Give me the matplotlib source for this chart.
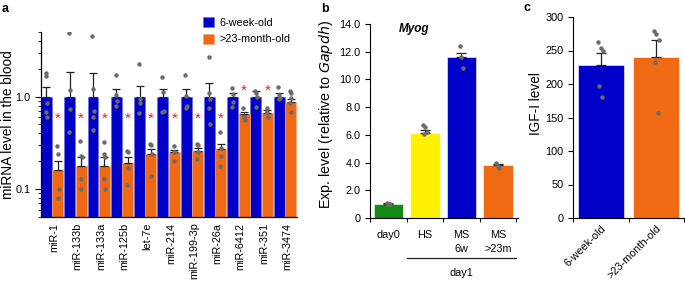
import matplotlib
matplotlib.use("Agg")
import matplotlib.pyplot as plt
import matplotlib.transforms as mtransforms
from matplotlib.ticker import NullFormatter, LogLocator
import numpy as np

plt.rcParams['font.family'] = ['Liberation Sans', 'DejaVu Sans']

BLUE = '#0000C8'
ORANGE = '#EF6A13'
GREEN = '#138A13'
YELLOW = '#FFF200'
DOT = '#6b6b6b'

# ---------------- Panel a data ----------------
mirnas = ['miR-1', 'miR-133b', 'miR-133a', 'miR-125b', 'let-7e', 'miR-214',
          'miR-199-3p', 'miR-26a', 'miR-6412', 'miR-351', 'miR-3474']
young_mean = [1.0] * 11
young_err_top = [1.26, 1.84, 1.80, 1.20, 1.31, 1.20, 1.20, 1.40, 1.10, 1.16, 1.09]
old_mean = [0.16, 0.18, 0.18, 0.19, 0.24, 0.25, 0.26, 0.27, 0.65, 0.67, 0.88]
old_err_top = [0.20, 0.22, 0.22, 0.22, 0.27, 0.264, 0.28, 0.31, 0.68, 0.71, 0.95]
young_pts = [
    [1.80, 1.68, 0.86, 0.69, 0.60],
    [4.9, 1.17, 0.74, 0.42],
    [4.5, 1.2, 0.70, 0.60, 0.44],
    [1.73, 1.05, 0.89, 0.79],
    [2.27, 0.95, 0.85, 0.66],
    [1.65, 1.12, 0.70, 0.68],
    [1.73, 1.02, 0.79, 0.75],
    [2.7, 1.09, 0.94, 0.75, 0.51],
    [1.25, 1.06, 0.88, 0.77],
    [1.16, 1.09, 1.0, 0.77],
    [1.28, 1.05, 0.97, 0.94],
]
old_pts = [
    [0.29, 0.24, 0.10, 0.081],
    [0.33, 0.23, 0.22, 0.13, 0.10],
    [0.32, 0.24, 0.22, 0.13, 0.10],
    [0.26, 0.25, 0.17, 0.11],
    [0.31, 0.30, 0.24, 0.14],
    [0.29, 0.25, 0.25, 0.20],
    [0.31, 0.30, 0.25, 0.21],
    [0.42, 0.28, 0.23, 0.18],
    [0.76, 0.61, 0.56],
    [0.75, 0.69, 0.61],
    [1.16, 1.09, 0.96, 0.85, 0.68],
]
star_y = [0.58, 0.58, 0.58, 0.58, 0.58, 0.58, 0.58, 0.58, 1.15, 1.15, None]
legend_labels = ['6-week-old', '>23-month-old']

# ---------------- Panel b data ----------------
b_cats = ['day0', 'HS', 'MS\n6w', 'MS\n>23m']
b_vals = [1.0, 6.12, 11.6, 3.8]
b_err_top = [1.07, 6.38, 11.88, 3.93]
b_pts = [[1.05, 1.0, 1.03], [6.70, 6.55, 6.23, 6.04], [12.4, 11.6, 10.8], [3.95, 3.72, 3.6]]
b_colors = [GREEN, YELLOW, BLUE, ORANGE]
b_yticks = [0, 2, 4, 6, 8, 10, 12, 14]

# ---------------- Panel c data ----------------
c_cats = ['6-week-old', '>23-month-old']
c_vals = [228, 241]
c_err_top = [246, 265]
c_pts = [[263, 254, 250, 197, 181], [279, 275, 266, 233, 156]]
c_colors = [BLUE, ORANGE]

W, H = 685, 281
fig = plt.figure(figsize=(W / 100, H / 100), dpi=100)

def ax_px(l, r, t, b):
    return fig.add_axes([l / W, 1 - b / H, (r - l) / W, (b - t) / H])

FS = 7.8
offs = [-0.06, 0.0, 0.06, -0.03, 0.03]

# ================= Panel a =================
axa = ax_px(41, 297, 32, 217)
x = np.arange(len(mirnas))
bw = 0.47
xb = x - 0.245
xo = x + 0.245
axa.bar(xb, young_mean, bw, color=BLUE, edgecolor='#6f6fe8', linewidth=0.5, label=legend_labels[0], zorder=2)
axa.bar(xo, old_mean, bw, color=ORANGE, edgecolor='#f6a878', linewidth=0.5, label=legend_labels[1], zorder=2)
for i in range(len(mirnas)):
    axa.errorbar(xb[i], young_mean[i], yerr=[[0], [young_err_top[i] - young_mean[i]]],
                 fmt='none', ecolor='#222222', elinewidth=0.9, capsize=3, capthick=0.9, zorder=3)
    axa.errorbar(xo[i], old_mean[i], yerr=[[0], [old_err_top[i] - old_mean[i]]],
                 fmt='none', ecolor='#222222', elinewidth=0.9, capsize=3, capthick=0.9, zorder=3)
    for k, v in enumerate(young_pts[i]):
        axa.plot(xb[i] + offs[k % 5] * 0.5, v, 'o', ms=2.2, color=DOT, zorder=4)
    for k, v in enumerate(old_pts[i]):
        axa.plot(xo[i] + offs[k % 5] * 0.5, v, 'o', ms=2.2, color=DOT, zorder=4)
    if star_y[i] is not None:
        axa.text(xo[i], star_y[i], '*', color='#ff1a1a', ha='center', va='center', fontsize=11, zorder=5)
axa.set_yscale('log')
axa.set_ylim(0.05, 5)
axa.set_xlim(-0.48, 10.52)
axa.set_yticks([0.1, 1.0])
axa.set_yticklabels(['0.1', '1.0'], fontsize=FS)
axa.yaxis.set_minor_locator(LogLocator(base=10, subs=np.arange(2, 10)))
axa.yaxis.set_minor_formatter(NullFormatter())
axa.set_xticks(x + 0.1)
axa.set_xticklabels(mirnas, rotation=90, fontsize=FS)
axa.tick_params(axis='x', length=0, pad=4)
axa.tick_params(axis='y', which='major', length=4, width=0.8)
axa.tick_params(axis='y', which='minor', length=2, width=0.6)
for s in ['top', 'right']:
    axa.spines[s].set_visible(False)
axa.spines['left'].set_linewidth(0.9)
axa.spines['bottom'].set_linewidth(0.9)
axa.set_ylabel('miRNA level in the blood', fontsize=9.8)
axa.yaxis.set_label_coords(-0.10, 0.5)
fig.legend(loc='upper left', bbox_to_anchor=(199 / W, 1 - 13 / H), frameon=False,
           fontsize=FS, handlelength=1.0, handleheight=1.0, handletextpad=0.5,
           labelspacing=0.55, borderaxespad=0)

# ================= Panel b =================
axb = ax_px(370, 518, 24, 218)
xbp = np.arange(len(b_cats))
axb.bar(xbp, b_vals, 0.8, color=b_colors, edgecolor='white', linewidth=0.4, zorder=2)
for i in range(len(b_cats)):
    axb.errorbar(xbp[i], b_vals[i], yerr=[[0], [b_err_top[i] - b_vals[i]]], fmt='none',
                 ecolor='#222222', elinewidth=0.9, capsize=3.5, capthick=0.9, zorder=3)
    for k, v in enumerate(b_pts[i]):
        axb.plot(xbp[i] + offs[k % 5] * 0.7, v, 'o', ms=2.2, color=DOT, zorder=4)
axb.set_xlim(-0.507, 3.55)
axb.set_ylim(0, 14)
axb.set_yticks(b_yticks)
axb.set_yticklabels(['0' if v == 0 else f'{v:.1f}' for v in b_yticks], fontsize=FS)
axb.set_xticks([-0.5, 0.5, 1.5, 2.5, 3.5])
axb.set_xticklabels([])
axb.set_xticks(xbp, minor=True)
axb.set_xticklabels(b_cats, minor=True, fontsize=FS, linespacing=1.5)
axb.tick_params(axis='x', which='major', length=3, width=0.8)
axb.tick_params(axis='x', which='minor', length=0, pad=9)
axb.tick_params(axis='y', length=3.5, width=0.8)
for s in ['top', 'right']:
    axb.spines[s].set_visible(False)
axb.set_ylabel('Exp. level (relative to $\\it{Gapdh}$)', fontsize=10.3)
axb.yaxis.set_label_coords(-0.236, 0.536)
axb.text(0.30, 0.975, 'Myog', transform=axb.transAxes, fontsize=8.5,
         fontweight='bold', fontstyle='italic', ha='center', va='center')
trb = mtransforms.blended_transform_factory(axb.transData, axb.transAxes)
axb.plot([0.5, 3.5], [-0.206, -0.206], color='#222222', lw=0.9, transform=trb, clip_on=False)
axb.text(2.0, -0.285, 'day1', transform=trb, ha='center', va='center', fontsize=FS)

# ================= Panel c =================
axc = ax_px(573, 684, 17, 218)
xcp = np.arange(len(c_cats))
axc.bar(xcp, c_vals, 0.82, color=c_colors, edgecolor='white', linewidth=0.4, zorder=2)
for i in range(len(c_cats)):
    axc.errorbar(xcp[i], c_vals[i], yerr=[[0], [c_err_top[i] - c_vals[i]]], fmt='none',
                 ecolor='#222222', elinewidth=0.9, capsize=3.5, capthick=0.9, zorder=3)
    for k, v in enumerate(c_pts[i]):
        axc.plot(xcp[i] + offs[k % 5] * 0.8, v, 'o', ms=2.2, color=DOT, zorder=4)
axc.set_xlim(-0.5, 1.5)
axc.set_ylim(0, 300)
axc.set_yticks(range(0, 301, 50))
axc.tick_params(axis='y', labelsize=FS, length=3.5, width=0.8)
axc.set_xticks([-0.5, 0.5, 1.5])
axc.set_xticklabels([])
axc.set_xticks(xcp, minor=True)
axc.set_xticklabels(c_cats, minor=True, fontsize=FS, rotation=45, ha='right', rotation_mode='anchor')
axc.tick_params(axis='x', which='major', length=3, width=0.8)
axc.tick_params(axis='x', which='minor', length=0, pad=4)
for s in ['top', 'right']:
    axc.spines[s].set_visible(False)
axc.set_ylabel('IGF-I level', fontsize=9.8)
axc.yaxis.set_label_coords(-0.27, 0.567)

# panel letters
fig.text(2 / W, 1 - 9 / H, 'a', fontweight='bold', fontsize=9, va='center', ha='left')
fig.text(321 / W, 1 - 9 / H, 'b', fontweight='bold', fontsize=9, va='center', ha='left')
fig.text(524 / W, 1 - 8 / H, 'c', fontweight='bold', fontsize=9, va='center', ha='left')

fig.savefig('out.png', dpi=100)
